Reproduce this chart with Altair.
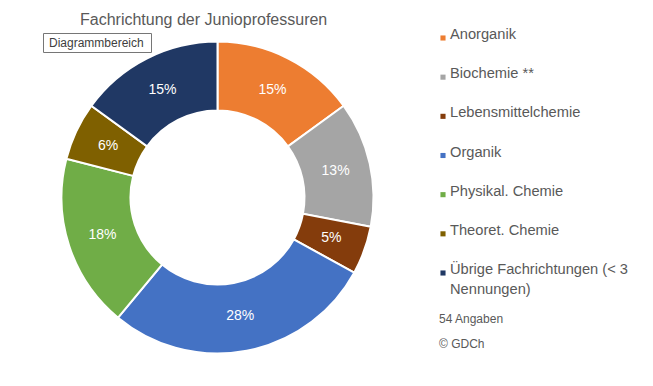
import altair as alt
import pandas as pd

# ---- data ----
categories = [
    "Anorganik",
    "Biochemie **",
    "Lebensmittelchemie",
    "Organik",
    "Physikal. Chemie",
    "Theoret. Chemie",
    "Übrige Fachrichtungen (< 3\nNennungen)",
]
percents = [15, 13, 5, 28, 18, 6, 15]
colors = ["#ED7D31", "#A5A5A5", "#843C0C", "#4472C4", "#70AD47", "#7F6000", "#203864"]
title_text = "Fachrichtung der Junioprofessuren"
notes = ["54 Angaben", "© GDCh"]
tooltip_text = "Diagrammbereich"

FONT = "Liberation Sans"
GREY = "#595959"

df = pd.DataFrame({
    "Fachrichtung": categories,
    "Anteil": percents,
    "order": list(range(len(categories))),
})
df["label"] = df["Anteil"].astype(str) + "%"

CX, CY = 209.5, 189.5
color_scale = alt.Scale(domain=categories, range=colors)

base = alt.Chart(df).encode(
    theta=alt.Theta("Anteil:Q", stack=True),
    order=alt.Order("order:Q"),
)

arcs = base.mark_arc(outerRadius=156, innerRadius=87, stroke="white", strokeWidth=2).encode(
    color=alt.Color("Fachrichtung:N", scale=color_scale, legend=None),
    x=alt.value(CX),
    y=alt.value(CY),
)

labels = base.mark_text(radius=121, color="white", font=FONT, fontSize=14).encode(
    text=alt.Text("label:N"),
    x=alt.value(CX),
    y=alt.value(CY),
)

ypos = alt.Y("order:O", scale=alt.Scale(type="point", range=[30, 265], padding=0), axis=None)

leg_sq = alt.Chart(df).mark_square(size=26, opacity=1).encode(
    y=ypos,
    x=alt.value(435),
    color=alt.Color("Fachrichtung:N", scale=color_scale, legend=None),
)

leg_txt = alt.Chart(df).mark_text(
    align="left", baseline="alphabetic", dy=1, font=FONT, fontSize=14.67,
    color=GREY, lineBreak="\n", lineHeight=20,
).encode(
    y=ypos,
    x=alt.value(442),
    text=alt.Text("Fachrichtung:N"),
)

title = alt.Chart(pd.DataFrame({"t": [title_text]})).mark_text(
    align="left", baseline="alphabetic", font=FONT, fontSize=16, color=GREY,
).encode(x=alt.value(72), y=alt.value(17), text="t:N")

note_df = pd.DataFrame({"t": notes, "i": [0, 1]})
note = alt.Chart(note_df).mark_text(
    align="left", baseline="alphabetic", font=FONT, fontSize=12, color=GREY,
).encode(
    x=alt.value(431),
    y=alt.Y("i:O", scale=alt.Scale(type="point", range=[315, 340], padding=0), axis=None),
    text="t:N",
)

tip_df = pd.DataFrame({"t": [tooltip_text]})
tip_box = alt.Chart(tip_df).mark_rect(fill="white", stroke="#767676", strokeWidth=1).encode(
    x=alt.value(35.5), x2=alt.value(143.5), y=alt.value(25.5), y2=alt.value(44.5),
)
tip_txt = alt.Chart(tip_df).mark_text(
    align="left", baseline="alphabetic", font=FONT, fontSize=12, color="#404040",
).encode(x=alt.value(41), y=alt.value(39), text="t:N")

chart = alt.layer(arcs, labels, leg_sq, leg_txt, title, note, tip_box, tip_txt).resolve_scale(
    y="independent"
).properties(
    width=637, height=370, padding=0, background="white",
    autosize=alt.AutoSizeParams(type="none"),
).configure_view(stroke="transparent", strokeWidth=0)

chart.save("out.html", embed_options={"renderer": "svg", "actions": False})
